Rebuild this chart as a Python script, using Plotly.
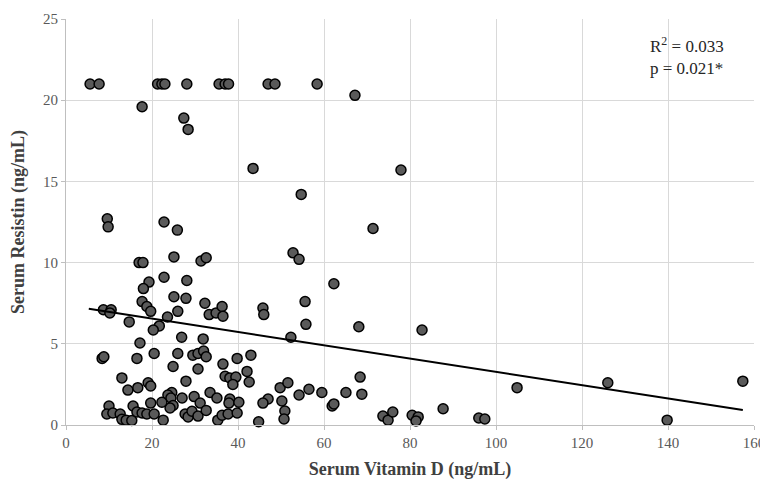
import plotly.graph_objects as go

# Serum Vitamin D (ng/mL)
vit_d = [
    5.6, 7.7, 21.3, 22.3, 23.0, 28.1, 35.6, 37.0, 37.8, 47.0, 48.6, 58.4,
    67.2, 17.7, 27.4, 28.4, 43.5, 77.9, 54.7,
    9.6, 9.8, 22.8, 25.9, 17.0, 17.9, 25.1, 31.4, 32.6,
    22.8, 19.3, 28.1, 18.0, 25.1, 27.9, 17.7, 18.8, 19.7,
    8.7, 10.5, 10.2, 26.0, 32.3, 33.3, 34.9, 36.3, 36.5,
    23.6, 21.7, 20.3, 14.7, 26.9, 31.9, 17.2,
    8.4, 8.8, 16.5, 20.5, 26.0, 29.5, 30.7, 32.0, 32.6,
    24.9, 30.7, 36.5, 39.8, 43.0, 42.1, 42.6,
    37.0, 38.1, 39.5, 38.8, 13.0, 27.9, 14.4, 16.7, 19.1, 19.7,
    24.6, 23.7, 24.4, 24.9, 24.2, 22.3, 27.0, 29.8, 31.2, 33.5, 35.1,
    38.1, 37.9, 40.2, 19.7, 15.6, 10.0,
    9.5, 10.9, 12.6, 13.0, 14.0, 15.3, 16.5, 17.7, 18.8, 20.5, 22.6,
    27.7, 28.4, 29.3, 30.7, 32.6, 35.3, 36.3, 37.7, 39.8, 44.8,
    71.4, 52.8, 54.2, 62.3, 55.6, 45.8, 46.0, 55.8, 68.1, 82.8, 52.3,
    68.4, 49.8, 51.6, 47.0, 45.8, 54.2, 56.5, 59.5, 65.1, 68.8,
    61.9, 62.3, 50.2, 50.9, 50.7, 73.7, 74.9, 76.0, 80.5, 81.9, 81.4,
    87.7, 96.0, 97.4, 104.9, 126.0, 139.8, 157.4,
]

# Serum Resistin (ng/mL)
resistin = [
    21.0, 21.0, 21.0, 21.0, 21.0, 21.0, 21.0, 21.0, 21.0, 21.0, 21.0, 21.0,
    20.3, 19.6, 18.9, 18.2, 15.8, 15.7, 14.2,
    12.7, 12.2, 12.5, 12.0, 10.0, 10.0, 10.35, 10.1, 10.3,
    9.1, 8.8, 8.9, 8.4, 7.9, 7.8, 7.6, 7.3, 7.0,
    7.1, 7.1, 6.9, 7.0, 7.5, 6.8, 6.9, 7.3, 6.7,
    6.65, 6.1, 5.85, 6.35, 5.4, 5.3, 5.05,
    4.1, 4.2, 4.1, 4.4, 4.4, 4.3, 4.4, 4.55, 4.2,
    3.6, 3.45, 3.75, 4.1, 4.3, 3.3, 2.65,
    3.0, 2.9, 2.95, 2.5, 2.9, 2.7, 2.15, 2.3, 2.6, 2.4,
    2.0, 1.85, 1.66, 1.2, 1.05, 1.4, 1.66, 1.75, 1.35, 2.0, 1.66,
    1.6, 1.35, 1.4, 1.35, 1.17, 1.17,
    0.68, 0.74, 0.68, 0.35, 0.3, 0.28, 0.8, 0.74, 0.68, 0.68, 0.3,
    0.68, 0.5, 0.85, 0.55, 0.9, 0.3, 0.6, 0.68, 0.74, 0.2,
    12.1, 10.6, 10.2, 8.7, 7.6, 7.2, 6.8, 6.2, 6.05, 5.85, 5.4,
    2.95, 2.3, 2.6, 1.6, 1.35, 1.85, 2.2, 2.0, 2.0, 1.9,
    1.17, 1.3, 1.48, 0.86, 0.37, 0.55, 0.3, 0.8, 0.6, 0.5, 0.25,
    1.0, 0.43, 0.37, 2.3, 2.6, 0.3, 2.7,
]

# Linear trend line
trend_x = [5.3, 157.4]
trend_intercept = 7.37
trend_slope = -0.041
trend_y = [trend_intercept + trend_slope * x for x in trend_x]

x_ticks = [0, 20, 40, 60, 80, 100, 120, 140, 160]
y_ticks = [0, 5, 10, 15, 20, 25]

FONT = "Liberation Serif, Times New Roman, serif"

fig = go.Figure()
fig.add_trace(go.Scatter(
    x=vit_d, y=resistin, mode="markers",
    marker=dict(size=10, color="#5a5a5a", line=dict(color="#000000", width=1.5)),
    showlegend=False, cliponaxis=False,
))
fig.add_trace(go.Scatter(
    x=trend_x, y=trend_y, mode="lines",
    line=dict(color="#000000", width=2), showlegend=False,
))

# the page adds an 8px body margin, so margins are offset accordingly
fig.update_layout(
    width=768, height=482,
    margin=dict(l=58, r=22, t=11, b=65),
    paper_bgcolor="white", plot_bgcolor="white",
    font=dict(family=FONT, color="#595959"),
    xaxis=dict(
        range=[0, 160], tickvals=x_ticks, ticktext=[str(v) for v in x_ticks],
        automargin=False,
        showgrid=True, gridcolor="#d9d9d9", gridwidth=1,
        zeroline=False, showline=True, linecolor="#bfbfbf", linewidth=1,
        ticks="outside", ticklen=4, tickcolor="#bfbfbf",
        tickfont=dict(size=15, family=FONT, color="#595959"),
        title=dict(text="<b>Serum Vitamin D (ng/mL)</b>",
                   font=dict(size=18, family=FONT, color="#404040"), standoff=12),
    ),
    yaxis=dict(
        range=[0, 25], tickvals=y_ticks, ticktext=[str(v) for v in y_ticks],
        automargin=False,
        showgrid=True, gridcolor="#d9d9d9", gridwidth=1,
        zeroline=False, showline=True, linecolor="#bfbfbf", linewidth=1,
        ticks="outside", ticklen=4, tickcolor="#bfbfbf",
        tickfont=dict(size=15, family=FONT, color="#595959"),
        title=dict(text="<b>Serum Resistin (ng/mL)</b>",
                   font=dict(size=18, family=FONT, color="#404040"), standoff=16),
    ),
    annotations=[dict(
        xref="paper", yref="paper", x=0.846, y=0.968,
        xanchor="left", yanchor="top", align="left",
        text="R<sup>2</sup> = 0.033<br>p = 0.021*",
        showarrow=False, font=dict(size=17, family=FONT, color="#262626"),
    )],
)

fig.write_html("out.html")
